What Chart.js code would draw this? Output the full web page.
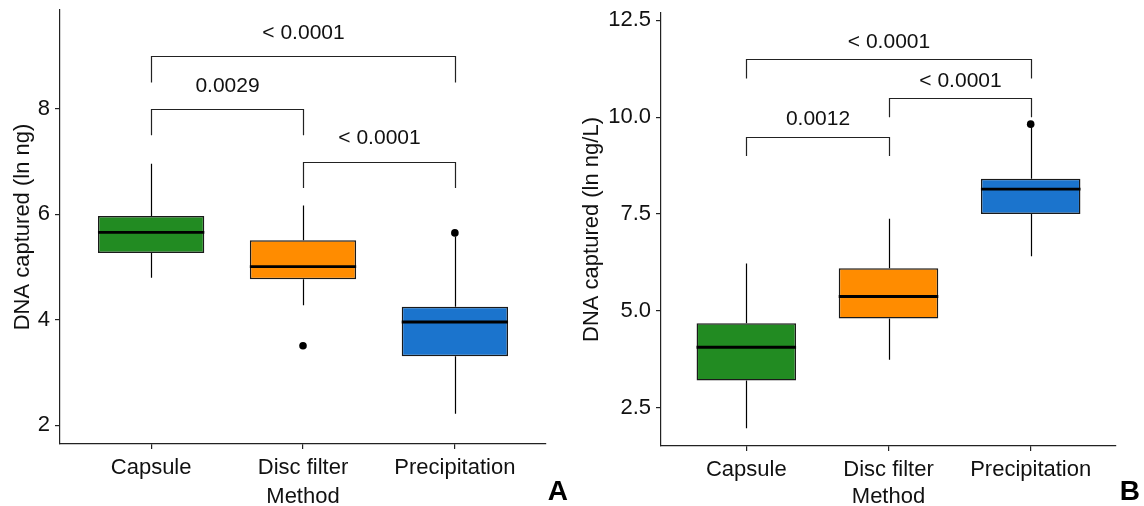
<!DOCTYPE html>
<html lang="en">
<head>
<meta charset="utf-8">
<title>DNA captured by method</title>
<script src="https://cdn.jsdelivr.net/npm/chart.js"></script>
<style>
    body { margin: 0; background: #fff; }
    .panels { display: flex; width: 1144px; height: 506px; }
    canvas { display: block; }
</style>
</head>
<body>

<div class="panels">
    <canvas id="panelA" width="572" height="506"></canvas>
    <canvas id="panelB" width="572" height="506"></canvas>
</div>

<script>
    const methods = ['Capsule', 'Disc filter', 'Precipitation'];
    const boxColors = ['#228B22', '#FF8C00', '#1B74CD'];

    // A: DNA captured (ln ng)
    const aLower   = [4.80, 4.28, 2.22];
    const aQ1      = [5.27, 4.77, 3.31];
    const aMedian  = [5.66, 5.01, 3.96];
    const aQ3      = [5.97, 5.51, 4.25];
    const aUpper   = [6.96, 6.17, 5.58];
    const aOutliers = [[], [3.51], [5.65]];
    const aTicks   = [2, 4, 6, 8];
    const aPairs   = [[0, 2], [0, 1], [1, 2]];
    const aPairY   = [9.0, 8.0, 7.0];
    const aPValues = ['< 0.0001', '0.0029', '< 0.0001'];

    // B: DNA captured (ln ng/L)
    const bLower   = [1.97, 3.74, 6.41];
    const bQ1      = [3.20, 4.80, 7.50];
    const bMedian  = [4.06, 5.37, 8.14];
    const bQ3      = [4.68, 6.10, 8.41];
    const bUpper   = [6.22, 7.38, 9.74];
    const bOutliers = [[], [], [9.82]];
    const bTicks   = [2.5, 5.0, 7.5, 10.0, 12.5];
    const bPairs   = [[0, 2], [1, 2], [0, 1]];
    const bPairY   = [11.5, 10.5, 9.5];
    const bPValues = ['< 0.0001', '< 0.0001', '0.0012'];

    const FONT = '"Liberation Sans", Arial, sans-serif';
    const INK = '#111';

    // whiskers under the boxes, medians + comparison brackets on top
    function boxExtras(p) {
        return {
            id: 'boxExtras',
            beforeDatasetsDraw(chart) {
                const { ctx, scales: { x, y } } = chart;
                ctx.save();
                ctx.strokeStyle = '#000';
                ctx.lineWidth = 1.2;
                p.lower.forEach((lo, i) => {
                    const px = Math.round(x.getPixelForValue(i)) + 0.5;
                    ctx.beginPath();
                    ctx.moveTo(px, y.getPixelForValue(p.upper[i]));
                    ctx.lineTo(px, y.getPixelForValue(p.q3[i]));
                    ctx.moveTo(px, y.getPixelForValue(p.q1[i]));
                    ctx.lineTo(px, y.getPixelForValue(lo));
                    ctx.stroke();
                });
                ctx.restore();
            },
            afterDatasetsDraw(chart) {
                const { ctx, scales: { x, y } } = chart;
                const bars = chart.getDatasetMeta(0).data;
                ctx.save();

                ctx.strokeStyle = '#000';
                ctx.lineWidth = 2.8;
                bars.forEach((bar, i) => {
                    const py = y.getPixelForValue(p.median[i]);
                    ctx.beginPath();
                    ctx.moveTo(bar.x - bar.width / 2, py);
                    ctx.lineTo(bar.x + bar.width / 2, py);
                    ctx.stroke();
                });

                ctx.strokeStyle = '#222';
                ctx.lineWidth = 1.2;
                ctx.fillStyle = INK;
                ctx.font = '21px ' + FONT;
                ctx.textAlign = 'center';
                ctx.textBaseline = 'middle';
                p.pairs.forEach(([a, b], i) => {
                    const x1 = Math.round(x.getPixelForValue(a)) + 0.5;
                    const x2 = Math.round(x.getPixelForValue(b)) + 0.5;
                    const top = Math.round(y.getPixelForValue(p.pairY[i])) + 0.5;
                    const tip = y.getPixelForValue(p.pairY[i] - 0.5);
                    ctx.beginPath();
                    ctx.moveTo(x1, tip);
                    ctx.lineTo(x1, top);
                    ctx.lineTo(x2, top);
                    ctx.lineTo(x2, tip);
                    ctx.stroke();
                    ctx.fillText(p.pValues[i], (x1 + x2) / 2, y.getPixelForValue(p.pairY[i] + 0.44));
                });

                ctx.font = 'bold 28px ' + FONT;
                ctx.textAlign = 'right';
                ctx.textBaseline = 'alphabetic';
                ctx.fillStyle = '#000';
                ctx.fillText(p.tag, chart.width - 4, 500);
                ctx.restore();
            }
        };
    }

    function drawPanel(canvasId, p) {
        const outliers = [];
        p.outliers.forEach((vals, i) => vals.forEach(v => outliers.push({ x: i, y: v })));

        return new Chart(document.getElementById(canvasId), {
            type: 'bar',
            data: {
                datasets: [{
                    data: methods.map((m, i) => ({ x: i, y: [p.q1[i], p.q3[i]] })),
                    backgroundColor: boxColors,
                    borderColor: '#1a1a1a',
                    borderWidth: 1.5,
                    borderSkipped: false,
                    barPercentage: 0.7,
                    categoryPercentage: 1.0
                }, {
                    type: 'scatter',
                    data: outliers,
                    pointRadius: 3.8,
                    pointBackgroundColor: '#000',
                    pointBorderWidth: 0
                }]
            },
            options: {
                responsive: false,
                animation: false,
                devicePixelRatio: 1,
                layout: { padding: { top: p.top, right: p.right, left: 0, bottom: 0 } },
                plugins: {
                    legend: { display: false },
                    tooltip: { enabled: false }
                },
                scales: {
                    x: {
                        type: 'linear',
                        min: -0.6,
                        max: 2.6,
                        offset: false,
                        afterBuildTicks: s => { s.ticks = methods.map((m, i) => ({ value: i })); },
                        afterFit: s => {
                            s.height = 506 - p.bottom;
                            s.paddingLeft = s.paddingRight = 0;
                        },
                        ticks: {
                            callback: v => methods[v],
                            autoSkip: false,
                            maxRotation: 0,
                            padding: 6,
                            color: INK,
                            font: { family: FONT, size: 22 }
                        },
                        grid: { drawOnChartArea: false, offset: false, tickLength: 5, color: '#222', lineWidth: 1.2 },
                        border: { color: '#222', width: 1.2 },
                        title: {
                            display: true,
                            text: 'Method',
                            color: INK,
                            padding: { top: 0, bottom: -2 },
                            font: { family: FONT, size: 22, lineHeight: 1 }
                        }
                    },
                    y: {
                        min: p.yMin,
                        max: p.yMax,
                        afterBuildTicks: s => { s.ticks = p.ticks.map(v => ({ value: v })); },
                        afterFit: s => {
                            s.width = p.left;
                            s.paddingTop = s.paddingBottom = 0;
                        },
                        ticks: {
                            callback: v => p.decimals ? v.toFixed(p.decimals) : String(v),
                            padding: 5,
                            color: INK,
                            font: { family: FONT, size: 22 }
                        },
                        grid: { drawOnChartArea: false, tickLength: 5, color: '#222', lineWidth: 1.2 },
                        border: { color: '#222', width: 1.2 },
                        title: {
                            display: true,
                            text: p.yTitle,
                            color: INK,
                            padding: { top: p.titleGap, bottom: 0 },
                            font: { family: FONT, size: 22, lineHeight: 1 }
                        }
                    }
                }
            },
            plugins: [boxExtras(p)]
        });
    }

    drawPanel('panelA', {
        lower: aLower, q1: aQ1, median: aMedian, q3: aQ3, upper: aUpper, outliers: aOutliers,
        ticks: aTicks, pairs: aPairs, pairY: aPairY, pValues: aPValues,
        yTitle: 'DNA captured (ln ng)', tag: 'A', decimals: 0,
        yMin: 1.647, yMax: 9.876,
        top: 10, bottom: 444, left: 60, right: 26, titleGap: 12
    });

    drawPanel('panelB', {
        lower: bLower, q1: bQ1, median: bMedian, q3: bQ3, upper: bUpper, outliers: bOutliers,
        ticks: bTicks, pairs: bPairs, pairY: bPairY, pValues: bPValues,
        yTitle: 'DNA captured (ln ng/L)', tag: 'B', decimals: 1,
        yMin: 1.51, yMax: 12.69,
        top: 13, bottom: 446, left: 89, right: 28, titleGap: 9
    });
</script>

</body>
</html>
